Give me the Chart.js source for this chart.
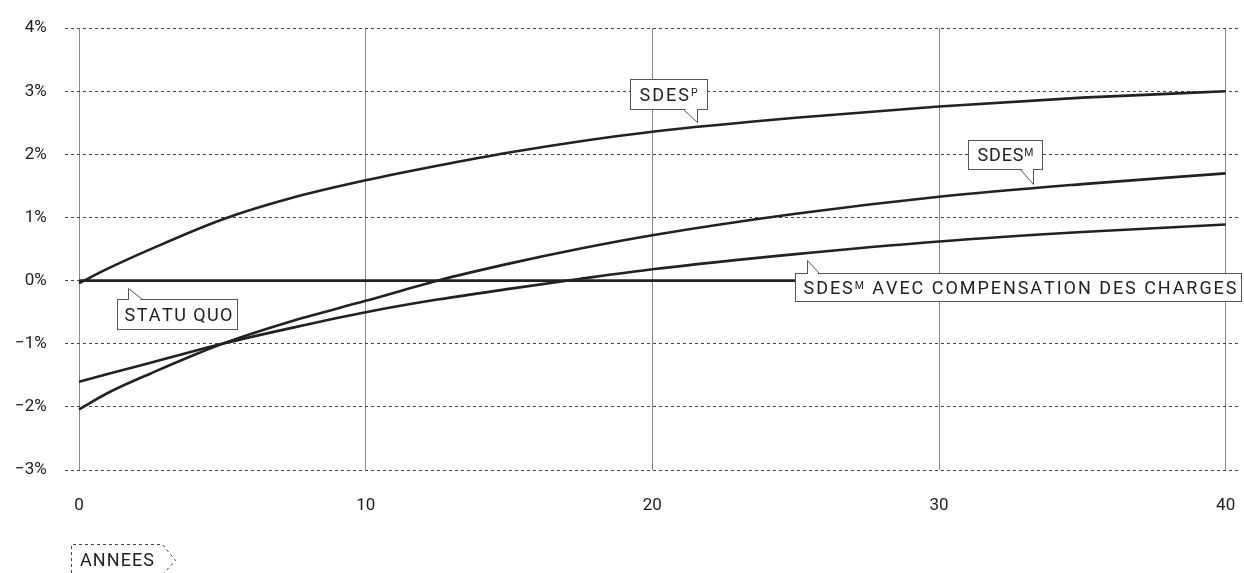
<!DOCTYPE html>
<html>
<head>
<meta charset="utf-8">
<script src="https://cdn.jsdelivr.net/npm/chart.js@4/dist/chart.umd.min.js"></script>
<style>
  html, body { margin: 0; padding: 0; background: #fff; }
  #wrap { width: 1244px; height: 573px; }
</style>
</head>
<body>
<div id="wrap"><canvas id="chart" width="1244" height="573"></canvas></div>
<script>
// years on the x axis
const years = [0, 1, 2.5, 5, 7.5, 10, 12.5, 15, 17.5, 20, 25, 30, 35, 40];

// series values, in %
const sdesP    = [-0.04, 0.19, 0.50, 0.97, 1.32, 1.59, 1.82, 2.03, 2.21, 2.36, 2.58, 2.76, 2.90, 3.00];
const sdesM    = [-2.04, -1.78, -1.47, -1.00, -0.63, -0.32, 0.00, 0.27, 0.51, 0.72, 1.06, 1.33, 1.53, 1.70];
const sdesMComp = [-1.60, -1.48, -1.30, -1.00, -0.74, -0.50, -0.30, -0.13, 0.03, 0.18, 0.42, 0.62, 0.77, 0.89];
const statuQuo = [0, 0, 0, 0, 0, 0, 0, 0, 0, 0, 0, 0, 0, 0];

// tick labels
const xTicks = [0, 10, 20, 30, 40];
const yTicks = [-3, -2, -1, 0, 1, 2, 3, 4];

const INK = '#222';
const FONT = 'Roboto';

function pts(values) {
  return years.map((x, i) => ({ x: x, y: values[i] }));
}

function lineSet(label, values) {
  return {
    label: label,
    data: pts(values),
    borderColor: INK,
    borderWidth: 2.6,
    pointRadius: 0,
    fill: false,
    cubicInterpolationMode: 'monotone'
  };
}

// callouts: tip anchored at a data point, box and tail offsets in px from the tip
const callouts = [
  { parts: [['SDES', 0], ['P', 1]], x: 21.56, y: 2.52,
    box: { l: -67, t: -43, r: 10, b: -13 }, tail: [[-14, -13], [0, -13]], tx: 9, tw: 58 },
  { parts: [['SDES', 0], ['M', 1]], x: 33.27, y: 1.53,
    box: { l: -65, t: -44, r: 9, b: -15 }, tail: [[-13, -15], [0, -15]], tx: 9, tw: 56 },
  { parts: [['SDES', 0], ['M', 1], [' AVEC COMPENSATION DES CHARGES', 0]], x: 25.38, y: 0.33,
    box: { l: -12, t: 12.5, r: 434, b: 41 }, tail: [[0, 12.5], [11.5, 12.5]], tx: 8, tw: 433 },
  { parts: [['STATU QUO', 0]], x: 1.71, y: -0.12,
    box: { l: -11, t: 11, r: 109, b: 41 }, tail: [[0, 11], [14, 11]], tx: 7, tw: 108 }
];

// draws text char by char, spread over a target width; superscript parts are smaller
function drawSpaced(ctx, parts, x, yMid, width) {
  const big = 18, small = 10.5;
  const chars = [];
  parts.forEach(p => {
    for (const ch of p[0]) chars.push({ ch: ch, sup: p[1] });
  });
  let natural = 0;
  chars.forEach(c => {
    ctx.font = (c.sup ? small : big) + 'px ' + FONT;
    c.w = ctx.measureText(c.ch).width;
    natural += c.w;
  });
  const gap = chars.length > 1 ? (width - natural) / (chars.length - 1) : 0;
  const cap = big * 0.711;
  let cx = x;
  ctx.fillStyle = INK;
  ctx.textBaseline = 'alphabetic';
  ctx.textAlign = 'left';
  chars.forEach(c => {
    ctx.font = (c.sup ? small : big) + 'px ' + FONT;
    const base = c.sup ? yMid - cap / 2 + small * 0.711 : yMid + cap / 2;
    ctx.fillText(c.ch, cx, base);
    cx += c.w + gap;
  });
}

const calloutPlugin = {
  id: 'callouts',
  afterDraw(chart) {
    const ctx = chart.ctx;
    const xs = chart.scales.x, ys = chart.scales.y;
    ctx.save();
    ctx.lineWidth = 1;
    callouts.forEach(c => {
      const px = Math.round(xs.getPixelForValue(c.x)) + 0.5;
      const py = Math.round(ys.getPixelForValue(c.y)) + 0.5;
      const l = px + Math.round(c.box.l), t = py + Math.round(c.box.t);
      const r = px + Math.round(c.box.r), b = py + Math.round(c.box.b);
      ctx.fillStyle = '#fff';
      ctx.fillRect(l, t, r - l, b - t);
      ctx.strokeStyle = '#555';
      ctx.strokeRect(l, t, r - l, b - t);
      // tail
      const a = [px + Math.round(c.tail[0][0]), py + Math.round(c.tail[0][1])];
      const z = [px + Math.round(c.tail[1][0]), py + Math.round(c.tail[1][1])];
      const inward = c.box.t > 0 ? 1.5 : -1.5;
      ctx.beginPath();
      ctx.moveTo(a[0] + 0.5, a[1] + inward);
      ctx.lineTo(px, py);
      ctx.lineTo(z[0] - 0.5, z[1] + inward);
      ctx.closePath();
      ctx.fillStyle = '#fff';
      ctx.fill();
      ctx.beginPath();
      ctx.moveTo(a[0], a[1]);
      ctx.lineTo(px, py);
      ctx.lineTo(z[0], z[1]);
      ctx.stroke();
      drawSpaced(ctx, c.parts, l + c.tx, (t + b) / 2, c.tw);
    });

    // "ANNEES" axis tag with dashed outline
    const left = Math.round(chart.chartArea.left) + 6.5;
    const top = 544.5;
    ctx.strokeStyle = '#444';
    ctx.setLineDash([3, 3]);
    ctx.beginPath();
    ctx.moveTo(left, 573);
    ctx.lineTo(left, top);
    ctx.lineTo(left + 91, top);
    ctx.lineTo(left + 104, top + 16);
    ctx.lineTo(left + 92, top + 29);
    ctx.stroke();
    ctx.setLineDash([]);
    drawSpaced(ctx, [['ANNEES', 0]], left + 8.5, 560, 74);
    ctx.restore();
  }
};

new Chart(document.getElementById('chart'), {
  type: 'line',
  data: {
    datasets: [
      lineSet('Statu quo', statuQuo),
      lineSet('SDES P', sdesP),
      lineSet('SDES M', sdesM),
      lineSet('SDES M avec compensation des charges', sdesMComp)
    ]
  },
  options: {
    responsive: false,
    animation: false,
    layout: { padding: { top: 25, right: 4, bottom: 0, left: 0 } },
    plugins: {
      legend: { display: false },
      tooltip: { enabled: false }
    },
    scales: {
      x: {
        type: 'linear',
        min: -0.5,
        max: 40.5,
        afterBuildTicks: s => { s.ticks = xTicks.map(v => ({ value: v })); },
        afterFit: s => { s.height = 103; s.paddingLeft = 0; s.paddingRight = 0; },
        grid: { color: '#888', lineWidth: 1, drawTicks: false },
        border: { display: false },
        ticks: {
          color: INK,
          font: { family: FONT, size: 17 },
          padding: 26,
          maxRotation: 0
        }
      },
      y: {
        min: -3,
        max: 4,
        afterBuildTicks: s => { s.ticks = yTicks.map(v => ({ value: v })); },
        afterFit: s => { s.width = 64.7; },
        grid: { color: '#444', lineWidth: 1, drawTicks: false },
        border: { display: false, dash: [3, 3] },
        ticks: {
          color: INK,
          font: { family: FONT, size: 17 },
          padding: 18,
          callback: v => (v < 0 ? '\u2212' : '') + Math.abs(v) + '%'
        }
      }
    }
  },
  plugins: [calloutPlugin]
});
</script>
</body>
</html>
